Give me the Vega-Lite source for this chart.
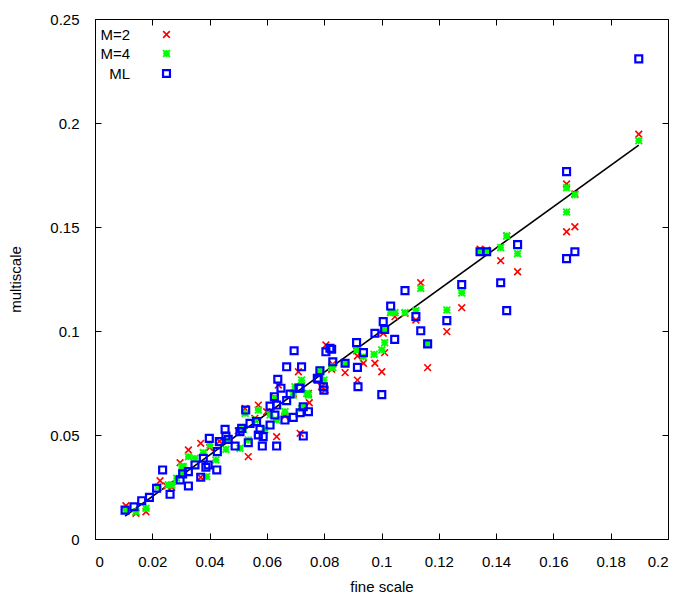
{
  "$schema": "https://vega.github.io/schema/vega-lite/v6.json",
  "autosize": {"type": "none"},
  "width": 573,
  "height": 520,
  "padding": {"left": 95, "top": 19, "right": 32, "bottom": 61},
  "background": "white",
  "config": {
    "view": {"stroke": "black", "strokeWidth": 1},
    "font": "Liberation Sans",
    "axis": {
      "grid": false,
      "domain": false,
      "tickColor": "black",
      "tickSize": -6,
      "tickWidth": 1,
      "labelFont": "Liberation Sans",
      "labelFontSize": 15,
      "labelColor": "black",
      "titleFont": "Liberation Sans",
      "titleFontSize": 15,
      "titleFontWeight": "normal",
      "titleColor": "black"
    }
  },
  "datasets": {
    "pts": [
      {"s":"M=2","x":0.1898,"y":0.1946},{"s":"M=2","x":0.1646,"y":0.1707},{"s":"M=2","x":0.1646,"y":0.1477},{"s":"M=2","x":0.1675,"y":0.1501},{"s":"M=2","x":0.1675,"y":0.1659},
      {"s":"M=2","x":0.1437,"y":0.1457},{"s":"M=2","x":0.1416,"y":0.1338},{"s":"M=2","x":0.1475,"y":0.1285},{"s":"M=2","x":0.1344,"y":0.1394},{"s":"M=2","x":0.1367,"y":0.1389},
      {"s":"M=2","x":0.128,"y":0.1112},{"s":"M=2","x":0.1137,"y":0.1232},{"s":"M=2","x":0.1228,"y":0.0997},{"s":"M=2","x":0.1161,"y":0.0824},{"s":"M=2","x":0.112,"y":0.1053},
      {"s":"M=2","x":0.1047,"y":0.1069},{"s":"M=2","x":0.1082,"y":0.1085},{"s":"M=2","x":0.1006,"y":0.0989},{"s":"M=2","x":0.1011,"y":0.0896},{"s":"M=2","x":0.0977,"y":0.0845},
      {"s":"M=2","x":0.1001,"y":0.0804},{"s":"M=2","x":0.0806,"y":0.0933},{"s":"M=2","x":0.0916,"y":0.088},{"s":"M=2","x":0.0937,"y":0.0845},{"s":"M=2","x":0.0873,"y":0.08},
      {"s":"M=2","x":0.0916,"y":0.0764},{"s":"M=2","x":0.0826,"y":0.0816},{"s":"M=2","x":0.0748,"y":0.0655},{"s":"M=2","x":0.0791,"y":0.0732},{"s":"M=2","x":0.071,"y":0.0804},
      {"s":"M=2","x":0.064,"y":0.074},{"s":"M=2","x":0.0803,"y":0.0716},{"s":"M=2","x":0.0716,"y":0.0508},{"s":"M=2","x":0.0634,"y":0.0492},{"s":"M=2","x":0.0524,"y":0.0628},
      {"s":"M=2","x":0.057,"y":0.0644},{"s":"M=2","x":0.0663,"y":0.0591},{"s":"M=2","x":0.0599,"y":0.0612},{"s":"M=2","x":0.0369,"y":0.046},{"s":"M=2","x":0.0326,"y":0.0428},
      {"s":"M=2","x":0.0535,"y":0.0396},{"s":"M=2","x":0.0297,"y":0.0367},{"s":"M=2","x":0.0268,"y":0.0249},{"s":"M=2","x":0.0369,"y":0.0297},{"s":"M=2","x":0.0108,"y":0.016},
      {"s":"M=2","x":0.0143,"y":0.0124},{"s":"M=2","x":0.0178,"y":0.0131},{"s":"M=2","x":0.0227,"y":0.028},{"s":"M=2","x":0.0464,"y":0.0481},{"s":"M=2","x":0.0434,"y":0.047},
      {"s":"M=2","x":0.0558,"y":0.058},{"s":"M=2","x":0.0628,"y":0.068},{"s":"M=2","x":0.0692,"y":0.07},{"s":"M=2","x":0.025,"y":0.0255},{"s":"M=2","x":0.04,"y":0.044},
      {"s":"M=2","x":0.05,"y":0.052},{"s":"M=2","x":0.0745,"y":0.07},{"s":"M=2","x":0.083,"y":0.084},{"s":"M=2","x":0.0913,"y":0.0905},{"s":"M=2","x":0.1032,"y":0.109},
      {"s":"M=4","x":0.1898,"y":0.1915},{"s":"M=4","x":0.1646,"y":0.1689},{"s":"M=4","x":0.1646,"y":0.1572},{"s":"M=4","x":0.1675,"y":0.1655},{"s":"M=4","x":0.1437,"y":0.1457},
      {"s":"M=4","x":0.1416,"y":0.1401},{"s":"M=4","x":0.1475,"y":0.1372},{"s":"M=4","x":0.1344,"y":0.1381},{"s":"M=4","x":0.1367,"y":0.1381},{"s":"M=4","x":0.128,"y":0.1183},
      {"s":"M=4","x":0.1137,"y":0.1205},{"s":"M=4","x":0.1228,"y":0.1101},{"s":"M=4","x":0.1082,"y":0.1088},{"s":"M=4","x":0.112,"y":0.1098},{"s":"M=4","x":0.1032,"y":0.1088},
      {"s":"M=4","x":0.1047,"y":0.1088},{"s":"M=4","x":0.1011,"y":0.1008},{"s":"M=4","x":0.1161,"y":0.0938},{"s":"M=4","x":0.1011,"y":0.0944},{"s":"M=4","x":0.1001,"y":0.0909},
      {"s":"M=4","x":0.0974,"y":0.0888},{"s":"M=4","x":0.0913,"y":0.0909},{"s":"M=4","x":0.0937,"y":0.0876},{"s":"M=4","x":0.083,"y":0.0825},{"s":"M=4","x":0.0873,"y":0.0845},
      {"s":"M=4","x":0.0788,"y":0.0813},{"s":"M=4","x":0.0799,"y":0.0764},{"s":"M=4","x":0.0745,"y":0.0692},{"s":"M=4","x":0.0721,"y":0.0764},{"s":"M=4","x":0.0727,"y":0.0636},
      {"s":"M=4","x":0.057,"y":0.062},{"s":"M=4","x":0.0628,"y":0.0676},{"s":"M=4","x":0.0698,"y":0.0732},{"s":"M=4","x":0.0692,"y":0.0692},{"s":"M=4","x":0.0739,"y":0.07},
      {"s":"M=4","x":0.0785,"y":0.0797},{"s":"M=4","x":0.0826,"y":0.0828},{"s":"M=4","x":0.0721,"y":0.0628},{"s":"M=4","x":0.0663,"y":0.0612},{"s":"M=4","x":0.0611,"y":0.0596},
      {"s":"M=4","x":0.0634,"y":0.0572},{"s":"M=4","x":0.0524,"y":0.0604},{"s":"M=4","x":0.0558,"y":0.0572},{"s":"M=4","x":0.0593,"y":0.0524},{"s":"M=4","x":0.0518,"y":0.0527},
      {"s":"M=4","x":0.0535,"y":0.0476},{"s":"M=4","x":0.0457,"y":0.0431},{"s":"M=4","x":0.0506,"y":0.0436},{"s":"M=4","x":0.0401,"y":0.0452},{"s":"M=4","x":0.0378,"y":0.0415},
      {"s":"M=4","x":0.0349,"y":0.0388},{"s":"M=4","x":0.0422,"y":0.038},{"s":"M=4","x":0.0308,"y":0.0348},{"s":"M=4","x":0.039,"y":0.03},{"s":"M=4","x":0.0285,"y":0.0292},
      {"s":"M=4","x":0.0268,"y":0.026},{"s":"M=4","x":0.0221,"y":0.0251},{"s":"M=4","x":0.0256,"y":0.026},{"s":"M=4","x":0.0178,"y":0.0148},{"s":"M=4","x":0.0143,"y":0.0131},
      {"s":"M=4","x":0.0108,"y":0.0139},{"s":"M=4","x":0.0303,"y":0.0348},{"s":"M=4","x":0.0303,"y":0.0313},{"s":"M=4","x":0.0326,"y":0.0396},{"s":"M=4","x":0.0464,"y":0.0481},
      {"s":"ML","x":0.1898,"y":0.2308},{"s":"ML","x":0.1646,"y":0.1766},{"s":"ML","x":0.1646,"y":0.1348},{"s":"ML","x":0.1675,"y":0.1381},{"s":"ML","x":0.1437,"y":0.1098},
      {"s":"ML","x":0.1416,"y":0.1232},{"s":"ML","x":0.1475,"y":0.1415},{"s":"ML","x":0.1344,"y":0.1381},{"s":"ML","x":0.1367,"y":0.1381},{"s":"ML","x":0.128,"y":0.1223},
      {"s":"ML","x":0.1082,"y":0.1194},{"s":"ML","x":0.1032,"y":0.112},{"s":"ML","x":0.1006,"y":0.1045},{"s":"ML","x":0.1011,"y":0.1008},{"s":"ML","x":0.0977,"y":0.0989},
      {"s":"ML","x":0.1046,"y":0.096},{"s":"ML","x":0.112,"y":0.1069},{"s":"ML","x":0.1137,"y":0.1001},{"s":"ML","x":0.1228,"y":0.105},{"s":"ML","x":0.1161,"y":0.0938},
      {"s":"ML","x":0.1001,"y":0.0694},{"s":"ML","x":0.0913,"y":0.0944},{"s":"ML","x":0.0937,"y":0.0896},{"s":"ML","x":0.0916,"y":0.0825},{"s":"ML","x":0.0918,"y":0.0732},
      {"s":"ML","x":0.0826,"y":0.0912},{"s":"ML","x":0.0806,"y":0.09},{"s":"ML","x":0.083,"y":0.0852},{"s":"ML","x":0.0873,"y":0.0845},{"s":"ML","x":0.0785,"y":0.0809},
      {"s":"ML","x":0.0776,"y":0.0773},{"s":"ML","x":0.0799,"y":0.0716},{"s":"ML","x":0.0721,"y":0.0828},{"s":"ML","x":0.0716,"y":0.0726},{"s":"ML","x":0.0727,"y":0.0636},
      {"s":"ML","x":0.0745,"y":0.0612},{"s":"ML","x":0.0695,"y":0.0905},{"s":"ML","x":0.0669,"y":0.0828},{"s":"ML","x":0.0638,"y":0.0768},{"s":"ML","x":0.0649,"y":0.0725},
      {"s":"ML","x":0.0712,"y":0.0725},{"s":"ML","x":0.0779,"y":0.0768},{"s":"ML","x":0.0797,"y":0.0732},{"s":"ML","x":0.0626,"y":0.0684},{"s":"ML","x":0.0681,"y":0.0697},
      {"s":"ML","x":0.0669,"y":0.0665},{"s":"ML","x":0.0634,"y":0.0644},{"s":"ML","x":0.0611,"y":0.0639},{"s":"ML","x":0.0628,"y":0.0596},{"s":"ML","x":0.0663,"y":0.0572},
      {"s":"ML","x":0.0692,"y":0.0585},{"s":"ML","x":0.0716,"y":0.0607},{"s":"ML","x":0.0727,"y":0.0495},{"s":"ML","x":0.0526,"y":0.062},{"s":"ML","x":0.0541,"y":0.0556},
      {"s":"ML","x":0.0564,"y":0.0564},{"s":"ML","x":0.0512,"y":0.0532},{"s":"ML","x":0.0506,"y":0.0516},{"s":"ML","x":0.0576,"y":0.0527},{"s":"ML","x":0.057,"y":0.05},
      {"s":"ML","x":0.0587,"y":0.0492},{"s":"ML","x":0.0611,"y":0.0548},{"s":"ML","x":0.0535,"y":0.0463},{"s":"ML","x":0.0584,"y":0.0447},{"s":"ML","x":0.0634,"y":0.0447},
      {"s":"ML","x":0.082,"y":0.0917},{"s":"ML","x":0.0454,"y":0.0527},{"s":"ML","x":0.0457,"y":0.0495},{"s":"ML","x":0.0399,"y":0.0484},{"s":"ML","x":0.0434,"y":0.0468},
      {"s":"ML","x":0.0465,"y":0.0479},{"s":"ML","x":0.0427,"y":0.042},{"s":"ML","x":0.0489,"y":0.0447},{"s":"ML","x":0.0378,"y":0.0388},{"s":"ML","x":0.0395,"y":0.0356},
      {"s":"ML","x":0.0387,"y":0.0345},{"s":"ML","x":0.0425,"y":0.0332},{"s":"ML","x":0.0369,"y":0.0297},{"s":"ML","x":0.0349,"y":0.0356},{"s":"ML","x":0.0306,"y":0.0313},
      {"s":"ML","x":0.0297,"y":0.0284},{"s":"ML","x":0.0326,"y":0.0255},{"s":"ML","x":0.0236,"y":0.0332},{"s":"ML","x":0.0215,"y":0.0244},{"s":"ML","x":0.0262,"y":0.0215},
      {"s":"ML","x":0.019,"y":0.02},{"s":"ML","x":0.0163,"y":0.0184},{"s":"ML","x":0.0136,"y":0.0155},{"s":"ML","x":0.0105,"y":0.0139},{"s":"ML","x":0.0326,"y":0.0324}
    ],
    "diag": [
      {"x": 0.0105, "y": 0.011},
      {"x": 0.1898, "y": 0.1894}
    ]
  },
  "layer": [
    {
      "data": {"name": "diag"},
      "mark": {"type": "line", "color": "black", "strokeWidth": 1.6},
      "encoding": {
        "x": {"field": "x", "type": "quantitative", "scale": {"domain": [0, 0.2], "nice": false, "zero": false},
              "axis": {"orient": "top", "labels": false, "title": null, "values": [0,0.02,0.04,0.06,0.08,0.1,0.12,0.14,0.16,0.18,0.2]}},
        "y": {"field": "y", "type": "quantitative", "scale": {"domain": [0, 0.25], "nice": false, "zero": false},
              "axis": {"orient": "right", "labels": false, "title": null, "values": [0,0.05,0.1,0.15,0.2,0.25]}}
      }
    },
    {
      "data": {"name": "pts"},
      "mark": {"type": "point", "filled": false, "opacity": 1},
      "encoding": {
        "x": {"field": "x", "type": "quantitative",
              "axis": {"orient": "bottom", "title": "fine scale", "format": "~g", "labelPadding": 21, "titlePadding": 10,
                       "labelFontSize": 15, "titleFontSize": 15,
                       "values": [0,0.02,0.04,0.06,0.08,0.1,0.12,0.14,0.16,0.18,0.2]}},
        "y": {"field": "y", "type": "quantitative",
              "axis": {"orient": "left", "title": "multiscale", "format": "~g", "labelPadding": 22, "titlePadding": 26,
                       "labelFontSize": 15, "titleFontSize": 15,
                       "values": [0,0.05,0.1,0.15,0.2,0.25]}},
        "color": {"field": "s", "type": "nominal",
                  "scale": {"domain": ["M=2", "M=4", "ML"], "range": ["#ff0000", "#00ff00", "#0000ff"]},
                  "legend": {"title": null, "orient": "none", "legendX": 64, "legendY": 8,
                             "labelAlign": "right", "labelOffset": -44, "labelFontSize": 15, "labelFont": "Liberation Sans",
                             "labelColor": "black", "symbolSize": 42, "symbolStrokeWidth": 2, "rowPadding": 3, "padding": 0}},
        "shape": {"field": "s", "type": "nominal",
                  "scale": {"domain": ["M=2", "M=4", "ML"],
                            "range": ["M-1,-1L1,1M-1,1L1,-1", "M-1,-1L1,1M-1,1L1,-1M-1,0L1,0M0,-1L0,1", "square"]}},
        "size": {"field": "s", "type": "nominal", "legend": null,
                 "scale": {"domain": ["M=2", "M=4", "ML"], "range": [45, 48, 36]}},
        "strokeWidth": {"field": "s", "type": "nominal", "legend": null,
                        "scale": {"domain": ["M=2", "M=4", "ML"], "range": [1.6, 2.2, 1.8]}}
      }
    }
  ],
  "resolve": {"axis": {"x": "independent", "y": "independent"}}
}
